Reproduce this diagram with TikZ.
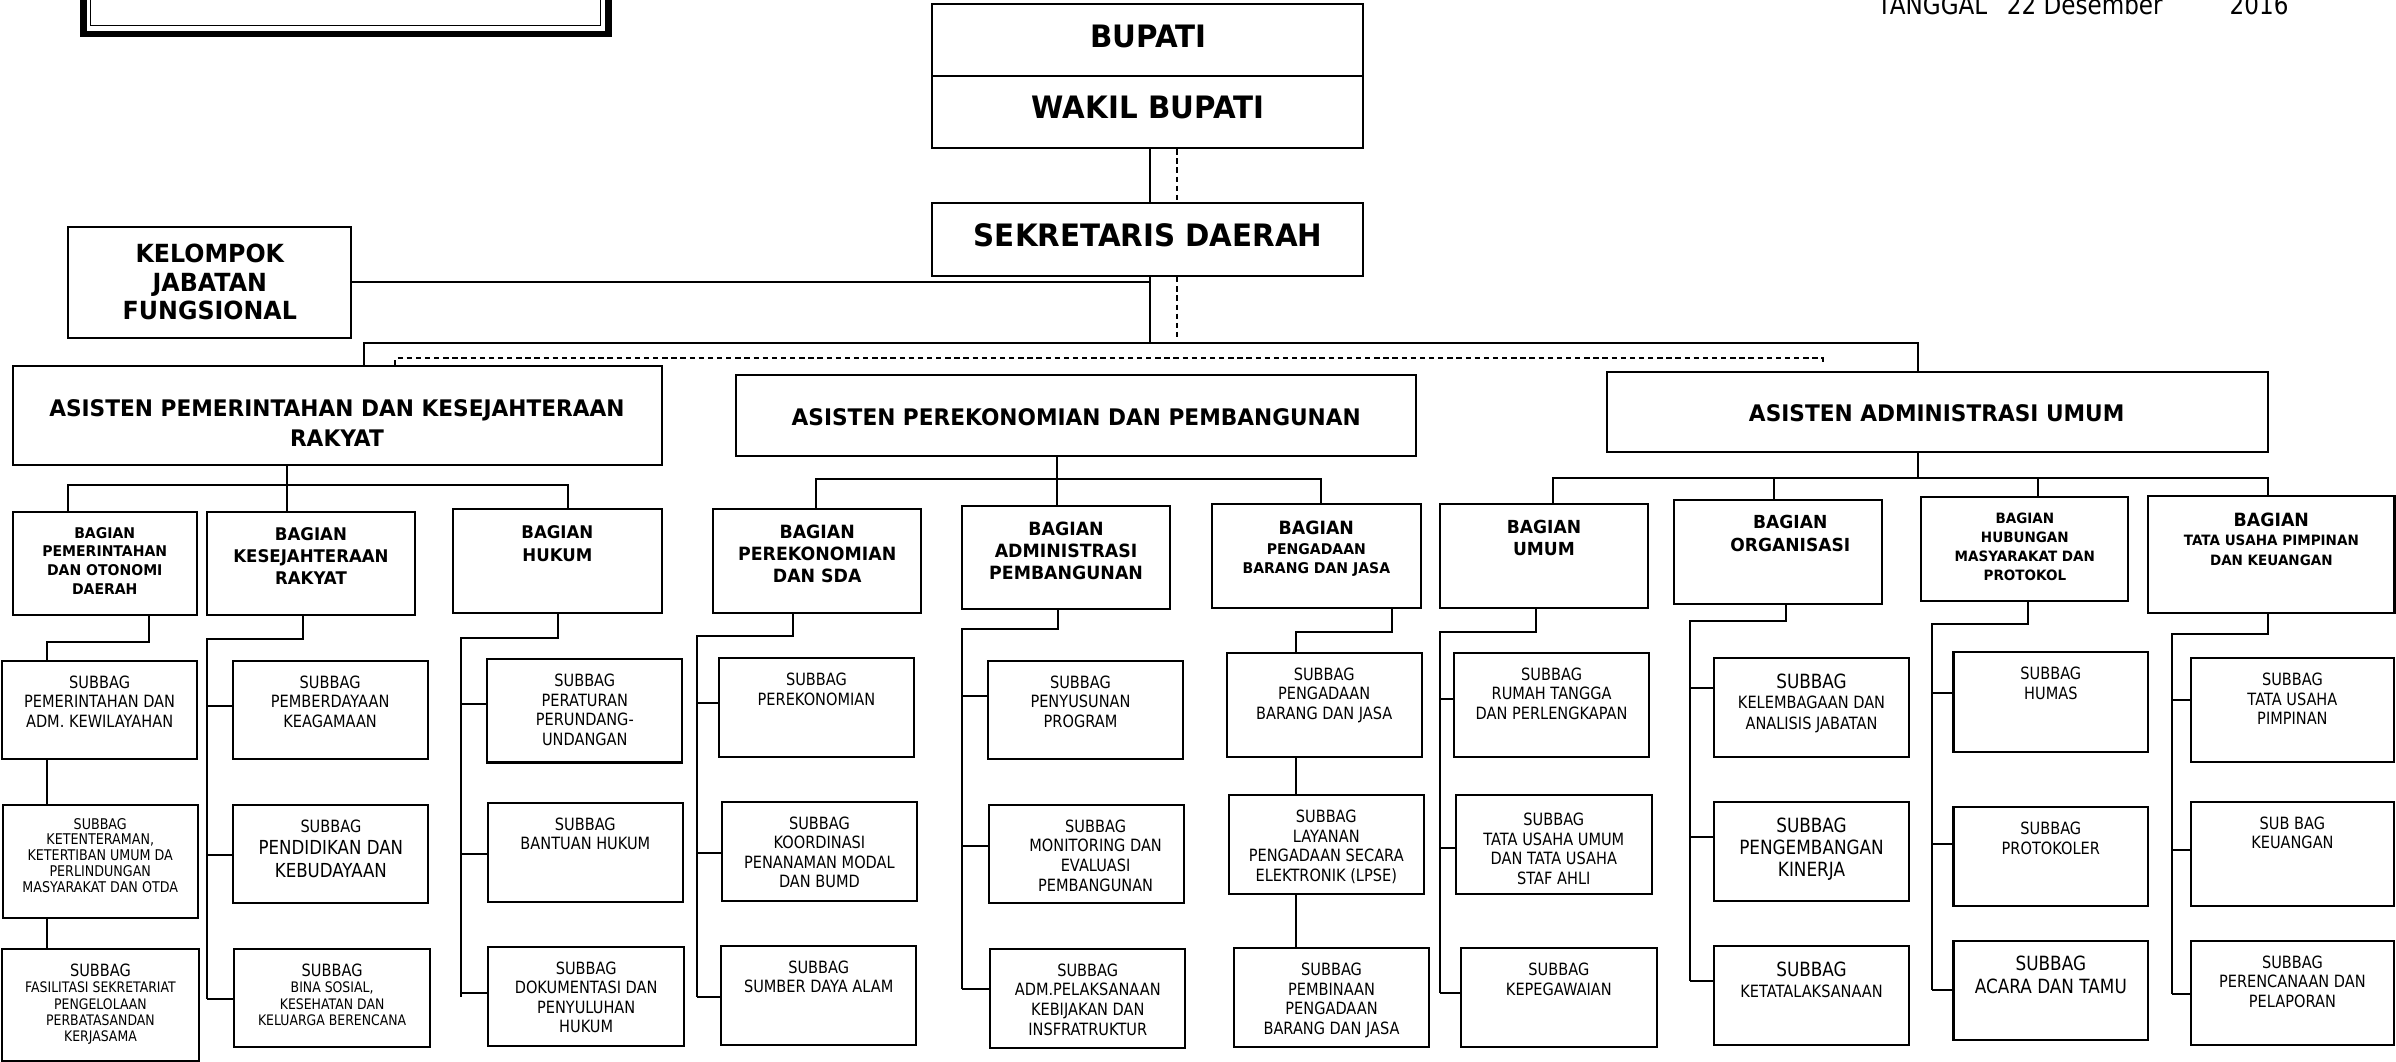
\documentclass[tikz,border=0pt]{standalone}
\usepackage{fontspec}
\setmainfont{DejaVu Sans}[FakeStretch=0.86]
\newfontfamily\hb{DejaVu Sans}[FakeStretch=0.95]
\usetikzlibrary{fit}
\newcommand\fs[2]{\fontsize{#1}{#2}\selectfont}
\tikzset{
 ln/.style={line width=0.75pt},
 dsh/.style={line width=0.7pt, dash pattern=on 2pt off 1.4pt},
 boxst/.style={draw, line width=0.75pt, inner sep=0pt},
 txt/.style={inner sep=0pt, align=center, font=\fs{6.3}{7.3}},
 btxt/.style={inner sep=0pt, align=center, font=\hb\bfseries\fs{6.5}{8.3}},
 txbig/.style={font=\fs{7.3}{8.4}},
}
\newcommand\subb[7]{\node[boxst, fit={(#2,#3)(#4,#5)}] (#1) {};
 \node[txt, anchor=north, yshift=-0.2cm, #6] (#1t) at (#1.north) {#7};}
\newcommand\bagb[7]{\node[boxst, fit={(#2,#3)(#4,#5)}] (#1) {};
 \node[btxt, anchor=north, #6] (#1t) at (#1.north) {#7};}
\newcommand\tee[3]{\draw[ln] (#1 |- 0,#3) -- (#2.west |- 0,#3);}
\begin{document}
\begin{tikzpicture}[x=0.02cm,y=-0.02cm]
\useasboundingbox (0,0) rectangle (1568,695);
\clip (0,0) rectangle (1568,695);
% top frame
\draw[line width=2.5pt] (54.8,-30) rectangle (398,22.2);
\draw[line width=0.5pt] (59.3,-30) rectangle (393,16.8);
% date
\node[anchor=base west, inner sep=0pt, font=\fs{10}{12}] (tgl1) at (1228.3,9.8) {TANGGAL};
\node[anchor=base west, inner sep=0pt, font=\fs{10}{12}] (tgl2) at (1313,9.8) {22 Desember};
\node[anchor=base west, inner sep=0pt, font=\fs{10}{12}] (tgl3) at (1458.8,9.8) {2016};
% top boxes
\node[boxst, fit={(610,2.6)(892,49.7)}] (bup) {};
\node[btxt, font=\hb\bfseries\fs{11.5}{13}] (bupt) at (751.4,23.6) {BUPATI};
\node[boxst, fit={(610,49.7)(892,97)}] (wak) {};
\node[btxt, font=\hb\bfseries\fs{11.5}{13}] (wakt) at (751.4,70.2) {WAKIL BUPATI};
\node[boxst, fit={(610,133)(892,180.7)}] (sek) {};
\node[btxt, font=\hb\bfseries\fs{11.5}{13}] (sekt) at (751.4,154.2) {SEKRETARIS DAERAH};
\node[boxst, fit={(44.4,148.3)(229.9,221.4)}] (kel) {};
\node[btxt, font=\hb\bfseries\fs{9.3}{10.5}] (kelt) at (137.3,184.6) {KELOMPOK\\JABATAN\\FUNGSIONAL};
% asisten
\node[boxst, fit={(8.2,239.5)(433,304.3)}] (a1) {};
\node[btxt, font=\hb\bfseries\fs{8.5}{11.1}] (a1t) at (220.5,277) {ASISTEN PEMERINTAHAN DAN KESEJAHTERAAN\\RAKYAT};
\node[boxst, fit={(481.5,245.4)(926.6,298.4)}] (a2) {};
\node[btxt, font=\hb\bfseries\fs{8.5}{11.1}] (a2t) at (704.3,272.7) {ASISTEN PEREKONOMIAN DAN PEMBANGUNAN};
\node[boxst, fit={(1051.5,243.2)(1484,295.6)}] (a3) {};
\node[btxt, font=\hb\bfseries\fs{8.5}{11.1}] (a3t) at (1267.4,270.5) {ASISTEN ADMINISTRASI UMUM};
% top connectors
\draw[ln] (wak.south -| 752.6,0) -- (sek.north -| 752.6,0);
\draw[dsh] (wak.south -| 770,0) -- (sek.north -| 770,0);
\draw[ln] (sek.south -| 752.6,0) -- (752.6,224.7);
\draw[dsh] (sek.south -| 770,0) -- (770,221);
\draw[ln] (kel.east) -- (kel.east -| 752.6,0);
\coordinate (h1) at (238,224.7);
\coordinate (h2) at (1255,224.7);
\draw[ln] (a1.north -| h1) -- (h1) -- (h2) -- (a3.north -| h2);
\draw[dsh] (a1.north -| 258.5,0) -- (258.5,234.5) -- (1193,234.5) -- (1193,238.5);
% bagian
\bagb{b1}{8.2}{335}{128.9}{402.5}{yshift=-0.206cm, font=\hb\bfseries\fs{5.5}{7.0}}{BAGIAN\\PEMERINTAHAN\\DAN OTONOMI\\DAERAH}
\bagb{b2}{135.3}{335}{271.7}{402.5}{yshift=-0.21cm}{BAGIAN\\KESEJAHTERAAN\\RAKYAT}
\bagb{b3}{296.5}{333}{433}{401.3}{yshift=-0.228cm}{BAGIAN\\HUKUM}
\bagb{b4}{466.6}{333}{603}{401}{yshift=-0.212cm, font=\hb\bfseries\fs{6.8}{8.2}}{BAGIAN\\PEREKONOMIAN\\DAN SDA}
\bagb{b5}{629.6}{331}{765.7}{398.6}{yshift=-0.216cm, font=\hb\bfseries\fs{6.8}{8.2}}{BAGIAN\\ADMINISTRASI\\PEMBANGUNAN}
\bagb{b6}{793.2}{329.6}{929.7}{398}{yshift=-0.236cm, font=\hb\bfseries\fs{5.5}{7.2}}{{\fs{6.8}{7.2}BAGIAN}\\PENGADAAN\\BARANG DAN JASA}
\bagb{b7}{942.4}{329.6}{1078.4}{398}{yshift=-0.216cm, font=\hb\bfseries\fs{6.7}{8.4}}{BAGIAN\\UMUM}
\bagb{b8}{1095.6}{327.2}{1231.6}{395.3}{yshift=-0.21cm, xshift=0.16cm, font=\hb\bfseries\fs{6.7}{8.4}}{BAGIAN\\ORGANISASI}
\bagb{b9}{1257.3}{325}{1392.9}{393}{yshift=-0.216cm, font=\hb\bfseries\fs{5.3}{7.1}}{BAGIAN\\HUBUNGAN\\MASYARAKAT DAN\\PROTOKOL}
\bagb{b10}{1405.8}{324.6}{1567}{401}{yshift=-0.226cm, font=\hb\bfseries\fs{5.3}{7.2}}{{\fs{6.8}{7.2}BAGIAN}\\TATA USAHA PIMPINAN\\DAN KEUANGAN}
% asisten -> bagian
\draw[ln] (a1.south -| 188,0) -- (b2.north -| 188,0);
\draw[ln] (b1.north -| 44.7,0) -- (44.7,317.4) -- (371.6,317.4) -- (b3.north -| 371.6,0);
\draw[ln] (a2.south -| 691.8,0) -- (b5.north -| 691.8,0);
\draw[ln] (b4.north -| 534,0) -- (534,313.5) -- (864.4,313.5) -- (b6.north -| 864.4,0);
\draw[ln] (a3.south -| 1255.3,0) -- (1255.3,313);
\coordinate (h3) at (1016,313);
\coordinate (h4) at (1484,313);
\draw[ln] (b7.north -| h3) -- (h3) -- (h4) -- (b10.north -| h4);
\draw[ln] (h3 -| 1160.7,0) -- (b8.north -| 1160.7,0);
\draw[ln] (h3 -| 1333.8,0) -- (b9.north -| 1333.8,0);
% subbag boxes
\subb{s1}{1.5}{432.6}{128.9}{497}{}{SUBBAG\\PEMERINTAHAN DAN\\ADM. KEWILAYAHAN}
\subb{s2}{1.8}{526.8}{129.4}{600.6}{yshift=0.022cm, font=\fs{5.5}{5.9}}{SUBBAG\\KETENTERAMAN,\\KETERTIBAN UMUM DA\\PERLINDUNGAN\\MASYARAKAT DAN OTDA}
\subb{s3}{1.5}{621}{130}{694.4}{font=\fs{5.4}{6.1}}{{\fs{6.3}{6.1}SUBBAG}\\FASILITASI SEKRETARIAT\\PENGELOLAAN\\PERBATASANDAN\\KERJASAMA}
\subb{s4}{152.2}{432.6}{279.9}{497}{}{SUBBAG\\PEMBERDAYAAN\\KEAGAMAAN}
\subb{s5}{152.7}{526.8}{280.4}{591.2}{font=\fs{7.2}{8.4}}{{\fs{6.3}{8.4}SUBBAG}\\PENDIDIKAN DAN\\KEBUDAYAAN}
\subb{s6}{153.4}{621}{281.3}{685}{font=\fs{5.4}{6.1}}{{\fs{6.3}{6.1}SUBBAG}\\BINA SOSIAL,\\KESEHATAN DAN\\KELUARGA BERENCANA}
\subb{s7}{319}{431.3}{446.4}{499}{}{SUBBAG\\PERATURAN\\PERUNDANG-\\UNDANGAN}
\subb{s8}{319.1}{525.3}{447}{590}{}{SUBBAG\\BANTUAN HUKUM}
\subb{s9}{319.6}{619.6}{447.6}{684.4}{}{SUBBAG\\DOKUMENTASI DAN\\PENYULUHAN\\HUKUM}
\subb{s10}{470.4}{430.8}{598.2}{495.2}{}{SUBBAG\\PEREKONOMIAN}
\subb{s11}{472.7}{524.7}{599.8}{589.5}{}{SUBBAG\\KOORDINASI\\PENANAMAN MODAL\\DAN BUMD}
\subb{s12}{472}{619.1}{599.5}{684}{}{SUBBAG\\SUMBER DAYA ALAM}
\subb{s13}{646.5}{432.6}{774.3}{497}{xshift=-0.066cm}{SUBBAG\\PENYUSUNAN\\PROGRAM}
\subb{s14}{647.1}{526.8}{774.9}{591.2}{xshift=0.12cm}{SUBBAG\\MONITORING DAN\\EVALUASI\\PEMBANGUNAN}
\subb{s15}{648.1}{621}{775.6}{685.7}{}{SUBBAG\\ADM.PELAKSANAAN\\KEBIJAKAN DAN\\INSFRATRUKTUR}
\subb{s16}{802.8}{427.2}{930.4}{495.2}{}{SUBBAG\\PENGADAAN\\BARANG DAN JASA}
\subb{s17}{804.3}{520.3}{931.6}{585.3}{}{SUBBAG\\LAYANAN\\PENGADAAN SECARA\\ELEKTRONIK (LPSE)}
\subb{s18}{807.6}{620.6}{935.2}{685}{}{SUBBAG\\PEMBINAAN\\PENGADAAN\\BARANG DAN JASA}
\subb{s19}{951.6}{427.2}{1079.2}{495.2}{}{SUBBAG\\RUMAH TANGGA\\DAN PERLENGKAPAN}
\subb{s20}{952.9}{520.5}{1080.8}{585.3}{yshift=-0.04cm}{SUBBAG\\TATA USAHA UMUM\\DAN TATA USAHA\\STAF AHLI}
\subb{s21}{956.2}{620.6}{1084.1}{685.4}{}{SUBBAG\\KEPEGAWAIAN}
\subb{s22}{1121.6}{430.4}{1249.4}{495.4}{yshift=-0.016cm, font=\fs{6.3}{7.6}}{{\fs{7.3}{7.6}SUBBAG}\\KELEMBAGAAN DAN\\ANALISIS JABATAN}
\subb{s23}{1121.6}{524.9}{1249.4}{589.7}{yshift=-0.016cm, font=\fs{7.3}{8.2}}{SUBBAG\\PENGEMBANGAN\\KINERJA}
\subb{s24}{1121.6}{619.1}{1249.4}{684}{yshift=-0.016cm, font=\fs{6.3}{7.7}}{{\fs{7.3}{7.7}SUBBAG}\\KETATALAKSANAAN}
\subb{s25}{1278.4}{427}{1405.8}{492}{}{SUBBAG\\HUMAS}
\subb{s26}{1278.4}{528.4}{1405.8}{593}{}{SUBBAG\\PROTOKOLER}
\subb{s27}{1278.4}{615.6}{1405.8}{680.7}{font=\fs{7.3}{8.7}}{SUBBAG\\ACARA DAN TAMU}
\subb{s28}{1433.6}{430.8}{1566.8}{498.9}{}{SUBBAG\\TATA USAHA\\PIMPINAN}
\subb{s29}{1433.6}{524.7}{1566.8}{593}{}{SUB BAG\\KEUANGAN}
\subb{s30}{1433.6}{615.6}{1566.8}{684}{}{SUBBAG\\PERENCANAAN DAN\\PELAPORAN}
% column 1
\draw[ln] (b1.south -| 97.3,0) -- (97.3,420) -- (30.7,420) -- (s1.north -| 30.7,0);
\draw[ln] (s1.south -| 30.7,0) -- (s2.north -| 30.7,0);
\draw[ln] (s2.south -| 30.7,0) -- (s3.north -| 30.7,0);
% column 2
\coordinate (j2) at (135.3,418.2);
\draw[ln] (b2.south -| 198.4,0) -- (198.4,418.2) -- (j2) -- (j2 |- 0,653.8);
\tee{j2}{s4}{462} \tee{j2}{s5}{559.8} \tee{j2}{s6}{653.8}
% column 3
\coordinate (j3) at (301.8,417.3);
\draw[ln] (b3.south -| 364.9,0) -- (364.9,417.3) -- (j3) -- (j3 |- 0,652.3);
\tee{j3}{s7}{461} \tee{j3}{s8}{558.7} \tee{j3}{s9}{650}
% column 4
\coordinate (j4) at (456.2,416.2);
\draw[ln] (b4.south -| 519,0) -- (519,416.2) -- (j4) -- (j4 |- 0,652.3);
\tee{j4}{s10}{460.3} \tee{j4}{s11}{558} \tee{j4}{s12}{652.3}
% column 5
\coordinate (j5) at (629.6,411.9);
\draw[ln] (b5.south -| 692.4,0) -- (692.4,411.9) -- (j5) -- (j5 |- 0,647.5);
\tee{j5}{s13}{455.7} \tee{j5}{s14}{553.5} \tee{j5}{s15}{647.5}
% column 6
\draw[ln] (b6.south -| 911,0) -- (911,413.8) -- (848.2,413.8) -- (s16.north -| 848.2,0);
\draw[ln] (s16.south -| 848.2,0) -- (s17.north -| 848.2,0);
\draw[ln] (s17.south -| 848.2,0) -- (s18.north -| 848.2,0);
% column 7
\coordinate (j7) at (942.4,413.8);
\draw[ln] (b7.south -| 1005,0) -- (1005,413.8) -- (j7) -- (j7 |- 0,649.7);
\tee{j7}{s19}{457.5} \tee{j7}{s20}{555} \tee{j7}{s21}{649.7}
% column 8
\coordinate (j8) at (1105.7,406.2);
\draw[ln] (b8.south -| 1168.9,0) -- (1168.9,406.2) -- (j8) -- (j8 |- 0,642);
\tee{j8}{s22}{450} \tee{j8}{s23}{547.8} \tee{j8}{s24}{642}
% column 9
\coordinate (j9) at (1264.5,408.6);
\draw[ln] (b9.south -| 1327.3,0) -- (1327.3,408.6) -- (j9) -- (j9 |- 0,648);
\tee{j9}{s25}{453.3} \tee{j9}{s26}{552.4} \tee{j9}{s27}{648}
% column 10
\coordinate (j10) at (1421.4,414.7);
\draw[ln] (b10.south -| 1484,0) -- (1484,414.7) -- (j10) -- (j10 |- 0,650.5);
\tee{j10}{s28}{458.1} \tee{j10}{s29}{556.1} \tee{j10}{s30}{650.5}
\end{tikzpicture}
\end{document}
